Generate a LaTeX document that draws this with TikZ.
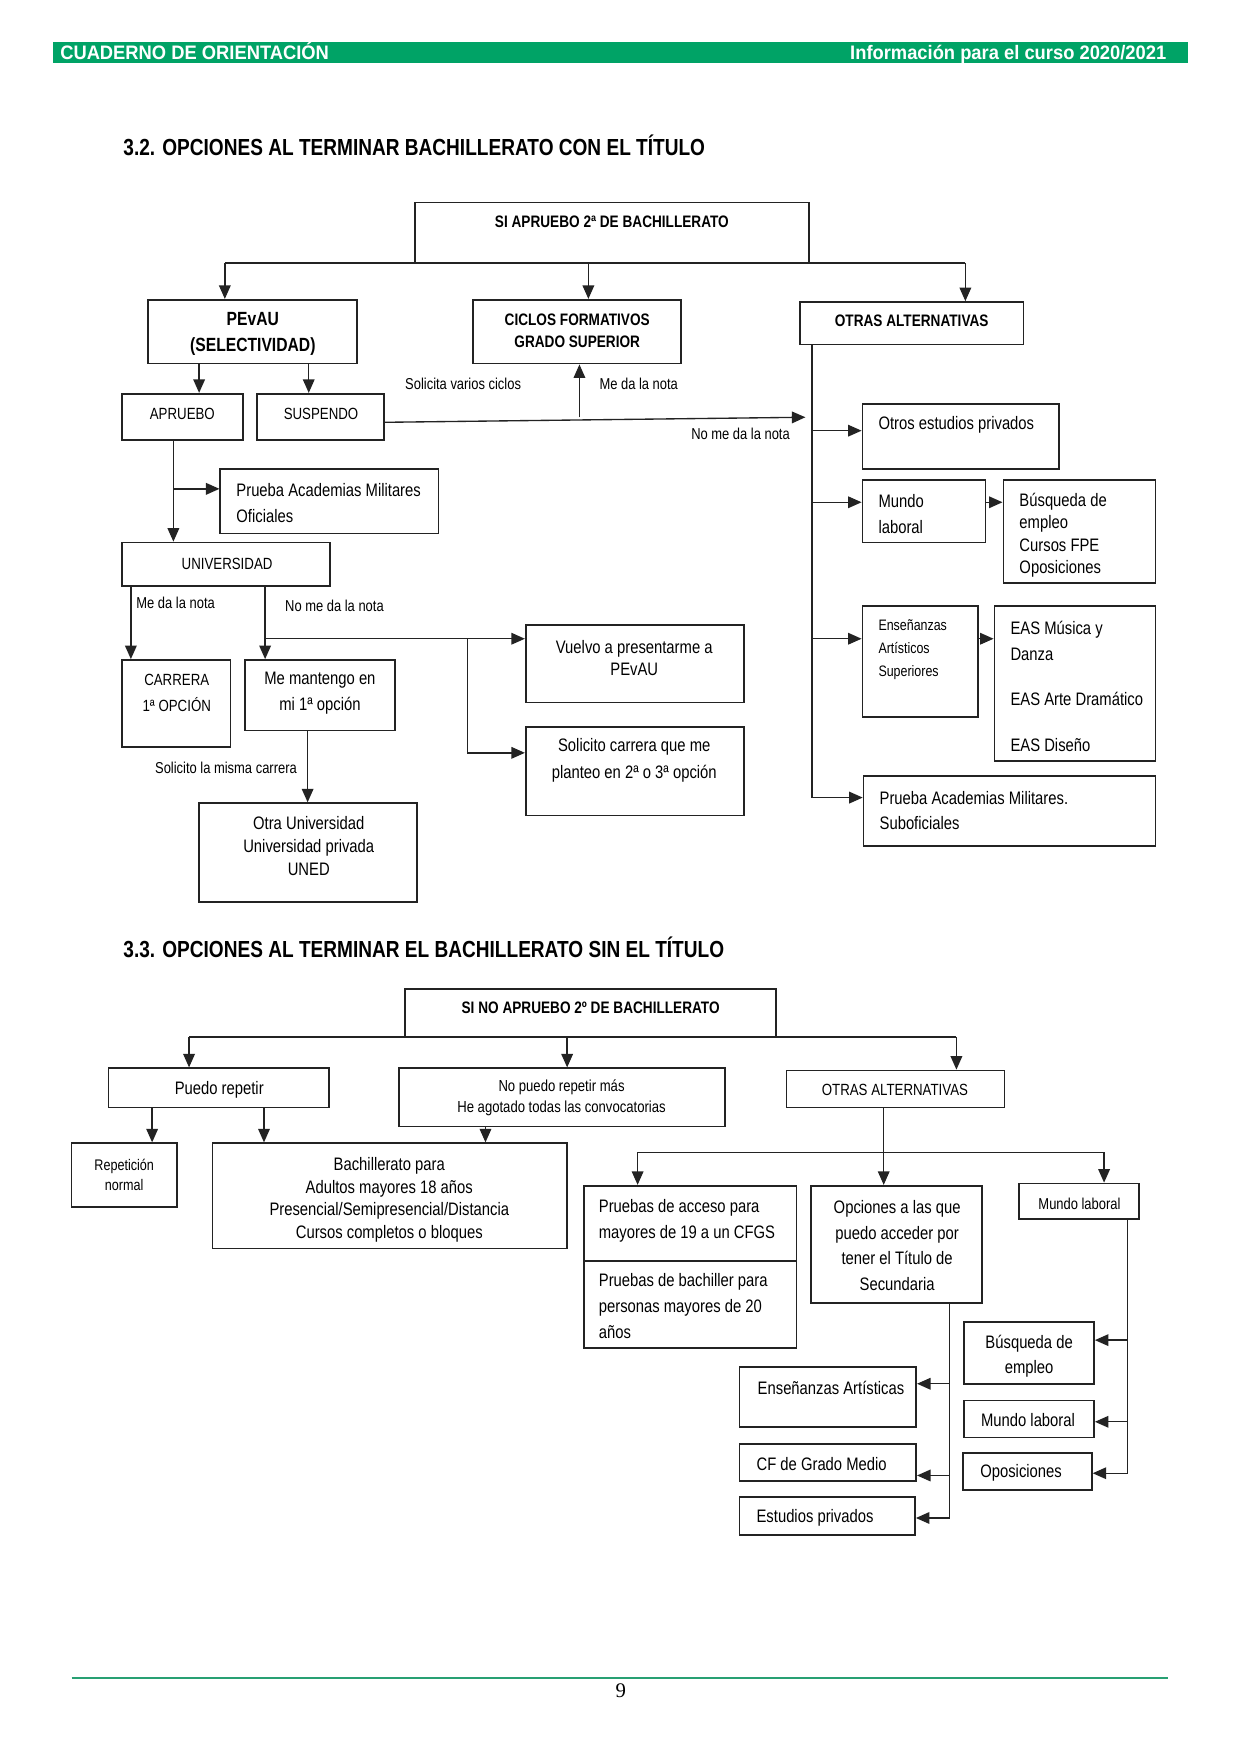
\documentclass[tikz,border=0pt]{standalone}
\usepackage{fontspec}
\setmainfont{Liberation Sans}[FakeStretch=0.82]
\newfontfamily\headfont{Liberation Sans}[FakeStretch=0.94]
\newfontfamily\numfont{Liberation Serif}
\usetikzlibrary{arrows.meta,fit}

\definecolor{cuadgreen}{RGB}{0,163,102}
\definecolor{footgreen}{RGB}{40,160,115}
\definecolor{linegray}{RGB}{35,35,35}

\tikzset{
  box/.style={draw=linegray,line width=0.85pt,inner sep=0pt},
  ln/.style={draw=linegray,line width=0.65pt},
  arr/.style={ln,-{Triangle[length=6.5pt,width=5.6pt]}},
  txt/.style={inner sep=0pt,font=\fontsize{8.7}{12.35}\selectfont},
  captxt/.style={inner sep=0pt,font=\fontsize{7.8}{11}\selectfont},
  lbl/.style={inner sep=0pt,font=\fontsize{7.6}{10.7}\selectfont},
  bld/.style={inner sep=0pt,font=\bfseries\fontsize{8}{10.7}\selectfont},
  sect/.style={inner sep=0pt,anchor=west,font=\bfseries\fontsize{11.2}{13}\selectfont},
  head/.style={inner sep=0pt,text=white,font=\headfont\bfseries\fontsize{9.4}{11}\selectfont}
}

\begin{document}
\begin{tikzpicture}[x=0.18936mm,y=-0.18936mm]

  % Page
  \fill[white] (0,0) rectangle (1109,1568);
  \useasboundingbox (0,0) rectangle (1109,1568);

  % Header band
  \fill[cuadgreen] (47,37.5) rectangle (1062,56);
  \node[head,anchor=base west] (headl) at (53.5,53.3) {CUADERNO DE ORIENTACIÓN};
  \node[head,anchor=base east] (headr) at (1043,53.3) {Información para el curso 2020/2021};

  % Section titles
  \node[sect] (tit1) at (110,130) {3.2. OPCIONES AL TERMINAR BACHILLERATO CON EL TÍTULO};
  \node[sect] (tit2) at (110,847) {3.3. OPCIONES AL TERMINAR EL BACHILLERATO SIN EL TÍTULO};

  % Boxes 3.2
  \foreach \nm/\xa/\ya/\xb/\yb in {
      sia/371/181/723/235, pevau/132/268/319/325, ciclos/423/268/609/325,
      otras/715/270/915/308, aprueb/109/352/217/393, susp/230/352/343/393,
      ofic/197/419/392/477, univ/109/485/295/524, carrera/109/590/206/668,
      mant/219/590/353/653, otrauni/178/718/373/806, vuelvo/470/559/665/628,
      solic/470/650/665/729, otros/771/361/947/419, mundo/771/429/881/485,
      busq/897/429/1033/521, ens/771/542/874/641, eas/889/542/1033/680,
      subof/772/694/1033/756}
    \node[box,fit={(\xa,\ya) (\xb,\yb)}] (\nm) {};

  % Boxes 3.3
  \foreach \nm/\xa/\ya/\xb/\yb in {
      sino/362/884/694/927, puedo/97/955/294/990, nopuedo/357/955/648/1007,
      otras2/703/957/898/990, rep/64/1022/158/1079, bach/190/1022/507/1116,
      prueba/522/1060/712/1127, pruebb/522/1127/712/1205, opc/725/1060/878/1165,
      mundob/911/1058/1018/1090, ensart/661/1222/819/1276, cfgm/661/1291/819/1324,
      estpriv/661/1338/818/1372, busqb/862/1182/978/1237, mundoc/862/1252/978/1285,
      opos/861/1299/976/1332}
    \node[box,fit={(\xa,\ya) (\xb,\yb)}] (\nm) {};

  % Texts 3.2
  \node[bld] (t-sia) at (547,198) {SI APRUEBO 2ª DE BACHILLERATO};
  \node[bld,align=center,font=\bfseries\fontsize{9.2}{12.4}\selectfont] (t-pevau) at (226,298.5) {PEvAU\\(SELECTIVIDAD)};
  \node[bld,align=center] (t-ciclos) at (516,296) {CICLOS FORMATIVOS\\GRADO SUPERIOR};
  \node[bld] (t-otras) at (815,287) {OTRAS ALTERNATIVAS};
  \node[captxt] (t-aprueb) at (163,370) {APRUEBO};
  \node[captxt] (t-susp) at (287,370) {SUSPENDO};
  \node[txt,anchor=west,align=left] (t-ofic) at (211,449.5) {Prueba Academias Militares\\Oficiales};
  \node[captxt] (t-univ) at (203,504) {UNIVERSIDAD};
  \node[captxt,align=center,font=\fontsize{7.8}{12.4}\selectfont] (t-carrera) at (158,619.5) {CARRERA\\1ª OPCIÓN};
  \node[txt,align=center] (t-mant) at (286,619.5) {Me mantengo en\\mi 1ª opción};
  \node[txt,align=center,font=\fontsize{8.7}{11}\selectfont] (t-otrauni) at (276,756.5) {Otra Universidad\\Universidad privada\\UNED};
  \node[txt,align=center,font=\fontsize{8.7}{10.7}\selectfont] (t-vuelvo) at (567,588) {Vuelvo a presentarme a\\PEvAU};
  \node[txt,align=center,font=\fontsize{8.7}{12.9}\selectfont] (t-solic) at (567,680) {Solicito carrera que me\\planteo en 2ª o 3ª opción};
  \node[txt,anchor=west] (t-otros) at (785,380) {Otros estudios privados};
  \node[txt,anchor=west,align=left] (t-mundo) at (785,459.5) {Mundo\\laboral};
  \node[txt,anchor=west,align=left,font=\fontsize{8.7}{10.9}\selectfont] (t-busq) at (911,478.5) {Búsqueda de\\empleo\\Cursos FPE\\Oposiciones};
  \node[lbl,anchor=west,align=left,font=\fontsize{7.3}{11}\selectfont] (t-ens) at (785,580.5) {Enseñanzas\\Artísticos\\Superiores};
  \node[txt,anchor=north west,align=left] (t-eas) at (903,555) {EAS Música y\\Danza\\[9.7pt]EAS Arte Dramático\\[9.7pt]EAS Diseño};
  \node[txt,anchor=west,align=left] (t-subof) at (786,724.5) {Prueba Academias Militares.\\Suboficiales};

  % Connector labels 3.2
  \node[lbl] (l-varios) at (414,343) {Solicita varios ciclos};
  \node[lbl] (l-danota) at (571,343) {Me da la nota};
  \node[lbl] (l-nonota) at (662,388) {No me da la nota};
  \node[lbl] (l-danota2) at (157,539) {Me da la nota};
  \node[lbl] (l-nonota2) at (299,542) {No me da la nota};
  \node[lbl] (l-misma) at (202,686) {Solicito la misma carrera};

  % Top box to the three branches
  \coordinate (j1) at (201,235);
  \coordinate (j2) at (526,235);
  \coordinate (j3) at (863,235);
  \draw[ln] (j1) -- (j3);
  \draw[arr] (j1) -- (j1 |- pevau.north);
  \draw[arr] (j2) -- (j2 |- ciclos.north);
  \draw[arr] (j3) -- (j3 |- otras.north);

  % PEvAU results
  \coordinate (j4) at (178,325);
  \coordinate (j5) at (276,325);
  \draw[arr] (j4) -- (j4 |- aprueb.north);
  \draw[arr] (j5) -- (j5 |- susp.north);

  % Suspendo
  \coordinate (j6) at (720,373);
  \coordinate (j7) at (518,373);
  \draw[arr] ([yshift=-2.7pt]susp.east) -- (j6);
  \draw[arr] (j7) -- (j7 |- ciclos.south);

  % Otras alternativas
  \coordinate (k1) at (726,385);
  \coordinate (k2) at (726,449);
  \coordinate (k3) at (726,571);
  \coordinate (k4) at (726,713);
  \draw[ln] (k4 |- otras.south) -- (k4);
  \draw[arr] (k1) -- (k1 -| otros.west);
  \draw[arr] (k2) -- (k2 -| mundo.west);
  \draw[arr] (k3) -- (k3 -| ens.west);
  \draw[arr] (k4) -- (k4 -| subof.west);
  \draw[arr] (k2 -| mundo.east) -- (k2 -| busq.west);
  \draw[arr] (k3 -| ens.east) -- (k3 -| eas.west);

  % Aprueba: universidad
  \coordinate (m1) at (155,437);
  \draw[arr] (m1 |- aprueb.south) -- (m1 |- univ.north);
  \draw[arr] (m1) -- (m1 -| ofic.west);
  \coordinate (m2) at (117,524);
  \coordinate (m3) at (237,524);
  \draw[arr] (m2) -- (m2 |- carrera.north);
  \draw[arr] (m3) -- (m3 |- mant.north);
  \coordinate (m4) at (237,571);
  \coordinate (m5) at (418,571);
  \coordinate (m6) at (418,673);
  \draw[arr] (m4) -- (m4 -| vuelvo.west);
  \draw[arr] (m5) -- (m6) -- (m6 -| solic.west);
  \coordinate (m7) at (275,653);
  \draw[arr] (m7) -- (m7 |- otrauni.north);

  % Texts 3.3
  \node[bld] (t-sino) at (528,901) {SI NO APRUEBO 2º DE BACHILLERATO};
  \node[txt] (t-puedo) at (196,974) {Puedo repetir};
  \node[lbl,align=center,font=\fontsize{7.7}{10.2}\selectfont] (t-nopuedo) at (502,981.5) {No puedo repetir más\\He agotado todas las convocatorias};
  \node[captxt] (t-otras2) at (800,974) {OTRAS ALTERNATIVAS};
  \node[lbl,align=center,font=\fontsize{7.4}{9.7}\selectfont] (t-rep) at (111,1050) {Repetición\\normal};
  \node[txt,align=center,font=\fontsize{8.7}{10.9}\selectfont] (t-bach) at (348,1072.5) {Bachillerato para\\Adultos mayores 18 años\\Presencial/Semipresencial/Distancia\\Cursos completos o bloques};
  \node[txt,anchor=west,align=left] (t-prueba) at (535,1091.5) {Pruebas de acceso para\\mayores de 19 a un CFGS};
  \node[txt,anchor=west,align=left,font=\fontsize{8.7}{12.6}\selectfont] (t-pruebb) at (535,1167.5) {Pruebas de bachiller para\\personas mayores de 20\\años};
  \node[txt,align=center] (t-opc) at (802,1113.5) {Opciones a las que\\puedo acceder por\\tener el Título de\\Secundaria};
  \node[lbl] (t-mundob) at (965,1076) {Mundo laboral};
  \node[txt,anchor=west] (t-ensart) at (677,1241) {Enseñanzas Artísticas};
  \node[txt,anchor=west] (t-cfgm) at (676,1309) {CF de Grado Medio};
  \node[txt,anchor=west] (t-estpriv) at (676,1357) {Estudios privados};
  \node[txt,align=center] (t-busqb) at (920,1212.5) {Búsqueda de\\empleo};
  \node[txt] (t-mundoc) at (919,1269) {Mundo laboral};
  \node[txt,anchor=west] (t-opos) at (876,1317) {Oposiciones};

  % Top box to the three branches
  \coordinate (n1) at (169,927);
  \coordinate (n2) at (507,927);
  \coordinate (n3) at (855,927);
  \draw[ln] (n1) -- (n3);
  \draw[arr] (n1) -- (n1 |- puedo.north);
  \draw[arr] (n2) -- (n2 |- nopuedo.north);
  \draw[arr] (n3) -- (n3 |- otras2.north);

  % Repetir
  \coordinate (n4) at (136,990);
  \coordinate (n5) at (236,990);
  \coordinate (n6) at (434,1007);
  \draw[arr] (n4) -- (n4 |- rep.north);
  \draw[arr] (n5) -- (n5 |- bach.north);
  \draw[arr] (n6) -- (n6 |- bach.north);

  % Otras alternativas
  \coordinate (n7) at (570,1030);
  \coordinate (n8) at (790,1030);
  \coordinate (n9) at (987,1030);
  \draw[ln] (n7) -- (n9);
  \draw[arr] (n8 |- otras2.south) -- (n8 |- opc.north);
  \draw[arr] (n7) -- (n7 |- prueba.north);
  \draw[arr] (n9) -- (n9 |- mundob.north);

  % Opciones con el titulo de secundaria
  \coordinate (p1) at (849,1237);
  \coordinate (p2) at (849,1319);
  \coordinate (p3) at (849,1357);
  \draw[ln] (p3 |- opc.south) -- (p3);
  \draw[arr] (p1) -- (p1 -| ensart.east);
  \draw[arr] (p2) -- (p2 -| cfgm.east);
  \draw[arr] (p3) -- (p3 -| estpriv.east);

  % Mundo laboral
  \coordinate (q1) at (1008,1198);
  \coordinate (q2) at (1008,1271);
  \coordinate (q3) at (1008,1317);
  \draw[ln] (q3 |- mundob.south) -- (q3);
  \draw[arr] (q1) -- (q1 -| busqb.east);
  \draw[arr] (q2) -- (q2 -| mundoc.east);
  \draw[arr] (q3) -- (q3 -| opos.east);

  % Footer
  \draw[footgreen,line width=0.6pt] (64,1500) -- (1044,1500);
  \node[inner sep=0pt,font=\numfont\fontsize{10}{12}\selectfont] (pnum) at (555,1511) {9};

\end{tikzpicture}
\end{document}
